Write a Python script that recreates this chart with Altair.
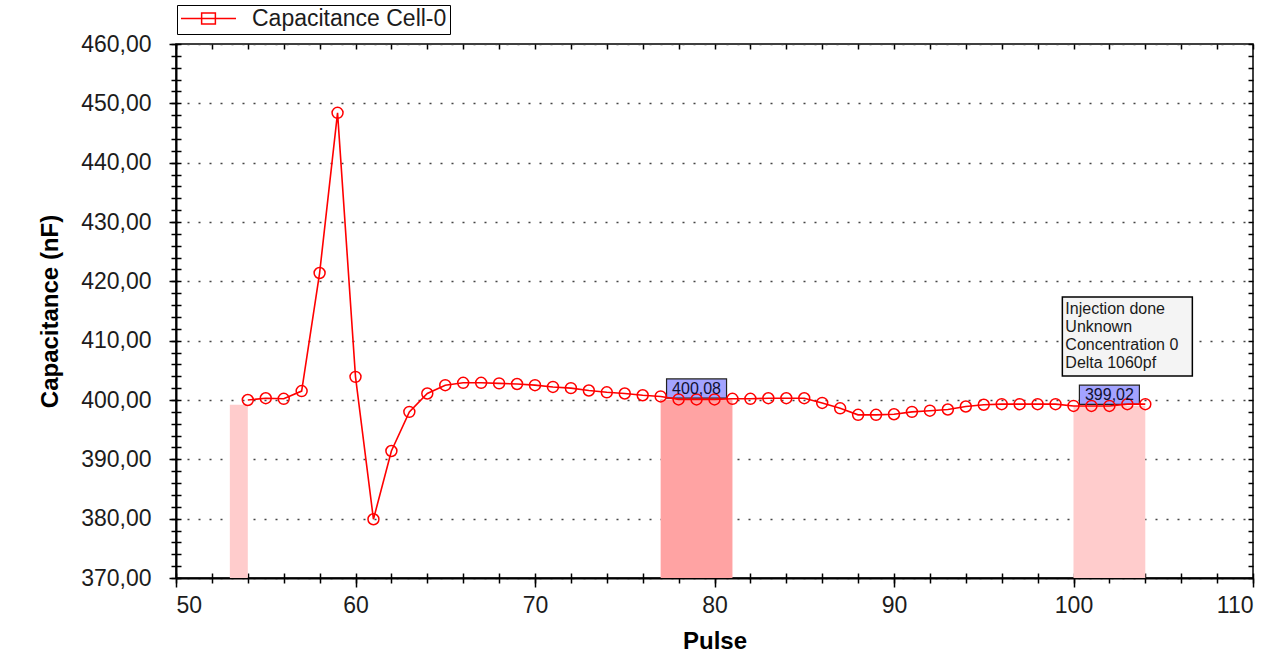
import altair as alt
import pandas as pd

# ---------------- data ----------------
pulse = list(range(54, 105))
capacitance = [
    400.0, 400.3, 400.2, 401.5, 421.4, 448.4, 403.9, 379.9, 391.4, 398.0,
    401.1, 402.5, 402.9, 402.9, 402.8, 402.7, 402.5, 402.2, 402.0, 401.6,
    401.3, 401.1, 400.8, 400.6, 400.1, 400.1, 400.1, 400.2, 400.2, 400.3,
    400.3, 400.3, 399.5, 398.6, 397.5, 397.5, 397.6, 398.0, 398.2, 398.4,
    398.9, 399.2, 399.3, 399.3, 399.3, 399.3, 399.0, 399.0, 399.0, 399.3,
    399.3,
]
series_name = "Capacitance Cell-0"

band_start = [53, 77, 100]
band_end = [54, 81, 104]
band_level = [399.2, 400.08, 399.02]
band_kind = ["start", "reference", "sample"]
band_colors = ["#ffcccc", "#ffa3a3", "#ffcccc"]

label_x = [79, 102]
label_y = [400.08, 399.02]
label_text = ["400,08", "399,02"]

note_x = [103]
note_y = [410.7]
note_lines = ["Injection done", "Unknown", "Concentration 0", "Delta 1060pf"]

x_ticks = list(range(50, 111, 10))
x_minor = list(range(50, 111, 2))
y_ticks = list(range(370, 461, 10))
y_minor = list(range(370, 461, 2))

FONT = "Liberation Sans"
RED = "#ff0000"

line_df = pd.DataFrame({"pulse": pulse, "cap": capacitance, "series": series_name})
band_df = pd.DataFrame({"start": band_start, "end": band_end, "level": band_level, "kind": band_kind})
label_df = pd.DataFrame({"x": label_x, "y": label_y, "text": label_text})
note_df = pd.DataFrame({"x": note_x, "y": note_y, "text": ["\n".join(note_lines)]})

xs = alt.Scale(domain=[50, 110], nice=False, zero=False)
ys = alt.Scale(domain=[370, 460], nice=False, zero=False)

ax_x_main = alt.Axis(orient="bottom", values=x_ticks, format="d", tickSize=9, tickWidth=1.5,
                     tickColor="black", domainColor="black", domainWidth=2,
                     labelFont=FONT, labelFontSize=23, labelColor="#1c1c1c", labelPadding=7,
                     titleFont=FONT, titleFontSize=24, titleFontWeight="bold", titleColor="black",
                     titlePadding=12, grid=False)
ax_y_main = alt.Axis(orient="left", values=y_ticks, tickSize=7, tickWidth=1.5, tickColor="black",
                     domainColor="black", domainWidth=2,
                     labelExpr="replace(format(datum.value, '.2f'), '.', ',')",
                     labelFont=FONT, labelFontSize=23, labelColor="#1c1c1c", labelPadding=18,
                     titleFont=FONT, titleFontSize=24, titleFontWeight="bold", titleColor="black",
                     titlePadding=18, grid=True, gridDash=[2, 9], gridColor="#444444", gridWidth=1.5)
ax_x_minor = alt.Axis(orient="bottom", values=x_minor, offset=-5, tickSize=10, tickWidth=1.5,
                      tickColor="black", labels=False, domain=False, grid=False)
ax_y_minor = alt.Axis(orient="left", values=y_minor, offset=-5, tickSize=10, tickWidth=1.5,
                      tickColor="black", labels=False, domain=False, grid=False)
ax_x_top = alt.Axis(orient="top", values=x_minor, offset=-5, tickSize=5, tickWidth=1.5,
                    tickColor="black", labels=False, domain=False, grid=False)
ax_y_right = alt.Axis(orient="right", values=y_minor, offset=-5, tickSize=5, tickWidth=1.5,
                      tickColor="black", labels=False, domain=False, grid=False)

bands = alt.Chart(band_df).mark_rect().encode(
    x=alt.X("start:Q", scale=xs, axis=ax_x_main, title="Pulse"),
    x2="end",
    y=alt.Y("level:Q", scale=ys, axis=ax_y_main, title="Capacitance (nF)"),
    y2=alt.datum(370),
    color=alt.Color("kind:N", scale=alt.Scale(domain=band_kind, range=band_colors), legend=None),
)

label_box = alt.Chart(label_df).mark_point(
    shape="M-1,-0.32H1V0.32H-1Z", size=3600, filled=True, fill="#a3a3ff",
    stroke="#222222", strokeWidth=1.2, opacity=1, yOffset=-11,
).encode(
    x=alt.X("x:Q", scale=xs, axis=None),
    y=alt.Y("y:Q", scale=ys, axis=None),
)

line = alt.Chart(line_df).mark_line(strokeWidth=1.6).encode(
    x=alt.X("pulse:Q", scale=xs, axis=ax_x_minor, title=None),
    y=alt.Y("cap:Q", scale=ys, axis=ax_y_minor, title=None),
    color=alt.Color(
        "series:N",
        scale=alt.Scale(domain=[series_name], range=[RED]),
        legend=alt.Legend(
            title=None, orient="none", legendX=1, legendY=-39,
            symbolType="M-1,0H1M-0.25,-0.2H0.25V0.2H-0.25Z", symbolSize=3025,
            symbolStrokeWidth=1.5, symbolFillColor="transparent", symbolStrokeColor=RED,
            labelFont=FONT, labelFontSize=23, labelColor="#1c1c1c", labelOffset=15,
            labelLimit=400, padding=3, strokeColor="black", fillColor="white", clipHeight=21,
        ),
    ),
)

points = alt.Chart(line_df).mark_point(
    shape="circle", filled=False, color=RED, size=120, strokeWidth=1.5, opacity=1,
).encode(
    x=alt.X("pulse:Q", scale=xs, axis=ax_x_top, title=None),
    y=alt.Y("cap:Q", scale=ys, axis=ax_y_right, title=None),
)

label_txt = alt.Chart(label_df).mark_text(
    font=FONT, fontSize=16, color="#101030", yOffset=-11, baseline="middle", align="center",
).encode(
    x=alt.X("x:Q", scale=xs, axis=None),
    y=alt.Y("y:Q", scale=ys, axis=None),
    text="text:N",
)

note_box = alt.Chart(note_df).mark_point(
    shape="M-1,-0.6077H1V0.6077H-1Z", size=16900, filled=True, fill="#f4f4f4",
    stroke="black", strokeWidth=1.5, opacity=1,
).encode(
    x=alt.X("x:Q", scale=xs, axis=None),
    y=alt.Y("y:Q", scale=ys, axis=None),
)

note_txt = alt.Chart(note_df).mark_text(
    font=FONT, fontSize=16, color="#1a1a1a", align="left", baseline="middle",
    lineBreak="\n", lineHeight=18.3, xOffset=-62, yOffset=-28,
).encode(
    x=alt.X("x:Q", scale=xs, axis=None),
    y=alt.Y("y:Q", scale=ys, axis=None),
    text="text:N",
)

chart = alt.layer(
    bands, label_box, line, points, label_txt, note_box, note_txt
).resolve_axis(
    x="independent", y="independent"
).resolve_scale(
    color="independent"
).properties(
    width=1077, height=534,
    autosize=alt.AutoSizeParams(type="none"),
    padding={"left": 176, "top": 44, "right": 25, "bottom": 87},
    background="white",
).configure_view(
    stroke="black", strokeWidth=1.5
)

chart.save("out.html", embed_options={"renderer": "svg", "actions": False})
